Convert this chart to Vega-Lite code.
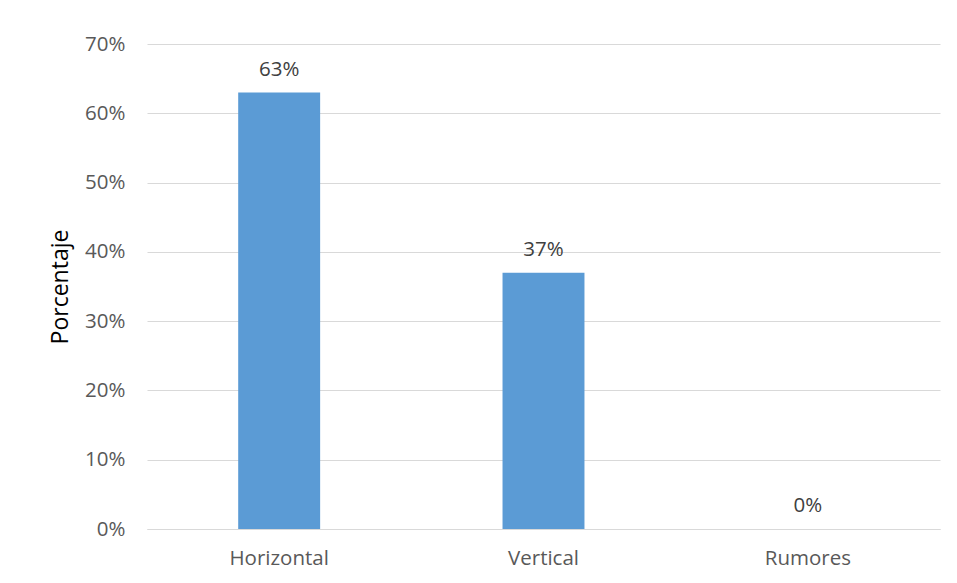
{
  "$schema": "https://vega.github.io/schema/vega-lite/v6.json",
  "width": 793,
  "height": 485,
  "autosize": "none",
  "padding": {"left": 147, "top": 44, "right": 17, "bottom": 54},
  "background": "white",
  "config": {
    "view": {"stroke": null},
    "font": "Open Sans"
  },
  "data": {
    "values": [
      {"categoria": "Horizontal", "porcentaje": 0.63},
      {"categoria": "Vertical", "porcentaje": 0.37},
      {"categoria": "Rumores", "porcentaje": 0.0}
    ]
  },
  "encoding": {
    "x": {
      "field": "categoria",
      "type": "nominal",
      "sort": null,
      "scale": {"paddingInner": 0.69, "paddingOuter": 0.345},
      "axis": {
        "title": null,
        "labelAngle": 0,
        "ticks": false,
        "domain": true,
        "domainColor": "#d9d9d9",
        "labelPadding": 19,
        "labelFontSize": 20.5,
        "labelColor": "#595959",
        "labelFont": "Open Sans"
      }
    },
    "y": {
      "field": "porcentaje",
      "type": "quantitative",
      "scale": {"domain": [0, 0.7], "nice": false},
      "axis": {
        "title": "Porcentaje",
        "titleFontSize": 23,
        "titleFontWeight": "normal",
        "titleColor": "#000000",
        "titleFont": "Open Sans",
        "titleX": -87,
        "titleBaseline": "middle",
        "format": ".0%",
        "values": [0, 0.1, 0.2, 0.3, 0.4, 0.5, 0.6, 0.7],
        "ticks": false,
        "domain": false,
        "labelPadding": 22,
        "labelFontSize": 20.5,
        "labelColor": "#595959",
        "labelFont": "Open Sans",
        "gridColor": "#d9d9d9",
        "gridWidth": 1
      }
    }
  },
  "layer": [
    {"mark": {"type": "bar", "color": "#5b9bd5"}},
    {
      "mark": {"type": "text", "baseline": "bottom", "dy": -13, "fontSize": 20.5, "color": "#404040", "font": "Open Sans"},
      "encoding": {"text": {"field": "porcentaje", "type": "quantitative", "format": ".0%"}}
    }
  ]
}
